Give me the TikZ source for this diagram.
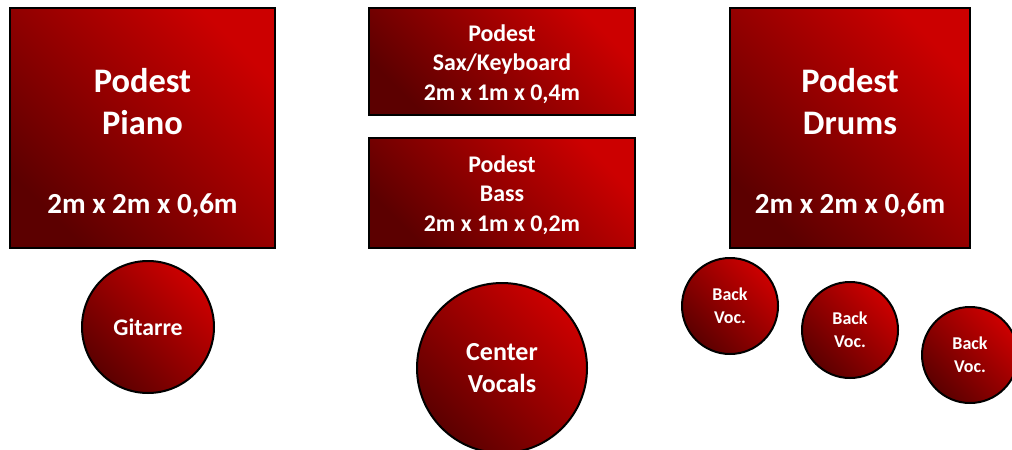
\documentclass[tikz,border=0pt]{standalone}
\usepackage{fontspec}
\setmainfont{Carlito}
\usetikzlibrary{positioning}
\definecolor{stagered}{RGB}{204,0,0}
\definecolor{stagedark}{RGB}{92,0,0}
\tikzset{
    stage/.style={draw=black,line width=1.5pt,top color=stagered,bottom color=stagedark,shading angle=-45,inner sep=0pt},
    podest/.style={stage,rectangle},
    spot/.style={stage,circle},
    stagetext/.style={text=white,font=\bfseries,align=center,inner sep=0pt},
}
\begin{document}
\begin{tikzpicture}[x=0.75pt,y=-0.75pt]
        \useasboundingbox (0,0) rectangle (1012,449);
        %% Podeste
        \node[podest,minimum width=198.75pt,minimum height=180pt] (piano) at (142.5,128) {};
        \node[podest,minimum width=199.5pt,minimum height=80.25pt] (sax) at (502,61.5) {};
        \node[podest,minimum width=199.5pt,minimum height=82.5pt] (bass) at (502,193) {};
        \node[podest,minimum width=180pt,minimum height=180pt] (drums) at (850,128) {};
        %% Texte der Podeste
        \node[stagetext,font=\bfseries\fontsize{25.8}{31.5}\selectfont] (pianotitle) at (142.5,102) {Podest\\Piano};
        \node[stagetext,font=\bfseries\fontsize{21.8}{24}\selectfont,anchor=base] (pianosize) at (142.5,213) {2m x 2m x 0,6m};
        \node[stagetext,font=\bfseries\fontsize{25.8}{31.5}\selectfont] (drumstitle) at (850,102) {Podest\\Drums};
        \node[stagetext,font=\bfseries\fontsize{21.8}{24}\selectfont,anchor=base] (drumssize) at (850,213) {2m x 2m x 0,6m};
        \node[stagetext,font=\bfseries\fontsize{17.9}{22}\selectfont] (saxtext) at (502,64) {Podest\\Sax/Keyboard\\2m x 1m x 0,4m};
        \node[stagetext,font=\bfseries\fontsize{17.9}{22}\selectfont] (basstext) at (502,195) {Podest\\Bass\\2m x 1m x 0,2m};
        %% Gitarre und Gesang
        \node[spot,minimum size=99pt,stagetext,font=\bfseries\fontsize{17.8}{20}\selectfont] (gitarre) at (148,327) {Gitarre};
        \node[spot,minimum size=127.5pt,stagetext,font=\bfseries\fontsize{19.5}{24}\selectfont] (center) at (502,368) {Center\\Vocals};
        \foreach \x/\y/\n in {730/306/1, 850/330/2, 970/355/3} {
            \node[spot,minimum size=72pt,stagetext,font=\bfseries\fontsize{13.5}{17}\selectfont] (back\n) at (\x,\y) {Back\\Voc.};
        }
\end{tikzpicture}
\end{document}
